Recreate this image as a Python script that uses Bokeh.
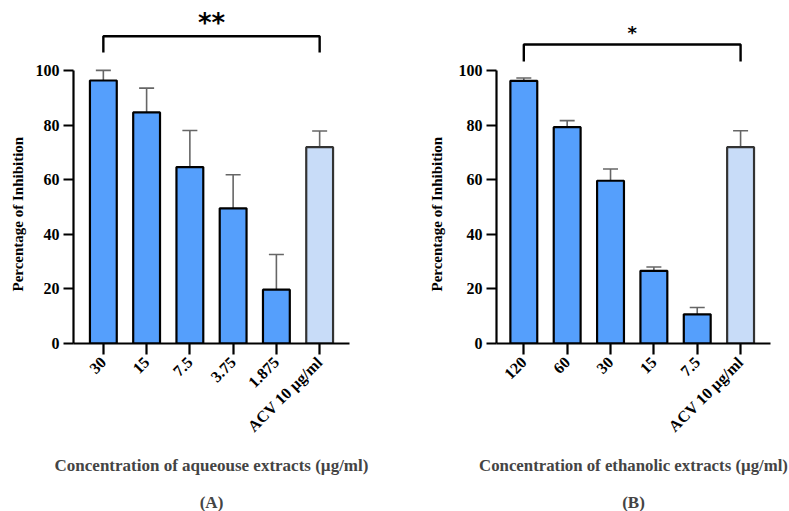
import math
from bokeh.plotting import figure
from bokeh.layouts import row
from bokeh.models import FixedTicker, Range1d, Title, ColumnDataSource, Whisker, TeeHead
from bokeh.embed import file_html
from bokeh.resources import INLINE
from bokeh.core.properties import value

# ---------------- data ----------------
cats_a = ["30", "15", "7.5", "3.75", "1.875", "ACV 10 µg/ml"]
means_a = [96.3, 84.6, 64.6, 49.5, 19.7, 71.9]
err_a = [3.7, 8.9, 13.4, 12.3, 12.9, 5.9]

cats_b = ["120", "60", "30", "15", "7.5", "ACV 10 µg/ml"]
means_b = [96.2, 79.2, 59.6, 26.6, 10.7, 71.9]
err_b = [1.0, 2.4, 4.3, 1.4, 2.5, 6.0]

y_ticks = [0, 20, 40, 60, 80, 100]
sig_a = "**"
sig_b = "*"
xlabel_a = "Concentration of aqueouse extracts (µg/ml)"
xlabel_b = "Concentration of ethanolic extracts (µg/ml)"
ylabel = "Percentage of Inhibition"
tag_a = "(A)"
tag_b = "(B)"

BLUE = "#559FFC"
LIGHT = "#C8DCF8"
SERIF = "Liberation Serif"
H = 511
YTOP = 125.6


def panel(cats, means, errs, sig, xlabel, tag, width, left, right, xpad_l, xpad_r,
          br_lo, br_hi, star_y, star_size, ylab_standoff, xlab_size):
    n = len(cats)
    xs = list(range(n))
    fills = [BLUE] * (n - 1) + [LIGHT]
    lines = ["black"] * (n - 1) + ["#333333"]
    src = ColumnDataSource(dict(x=xs, top=means, upper=[m + e for m, e in zip(means, errs)],
                                fill=fills, line=lines))
    p = figure(width=width, height=H, output_backend="svg", toolbar_location=None,
               x_range=Range1d(-xpad_l, n - 1 + xpad_r), y_range=Range1d(0, YTOP),
               min_border_left=left, min_border_right=right, min_border_top=0,
               min_border_bottom=0)
    p.outline_line_color = None
    p.grid.visible = False

    p.add_layout(Whisker(base="x", upper="upper", lower="top", source=src,
                         line_color="#666666", line_width=1.6,
                         upper_head=TeeHead(size=15, line_color="#666666", line_width=1.6),
                         lower_head=None, level="underlay"))
    p.vbar(x="x", top="top", width=0.62, bottom=0, source=src,
           fill_color="fill", line_color="line", line_width=2.2)

    # significance bracket
    p.line([0, 0, n - 1, n - 1], [br_lo, br_hi, br_hi, br_lo], line_color="black",
           line_width=2.4)
    p.text(x=[(n - 1) / 2], y=[star_y], text=[sig], text_align="center",
           text_baseline="middle", text_font=value("DejaVu Sans"),
           text_font_style="bold", text_font_size=star_size, text_color="black")

    # axes
    yax = p.yaxis[0]
    yax.ticker = FixedTicker(ticks=y_ticks)
    yax.bounds = (0, 100)
    yax.minor_tick_line_color = None
    yax.major_tick_in = 0
    yax.major_tick_out = 10
    yax.axis_line_width = 2.2
    yax.major_tick_line_width = 2.2
    yax.major_label_text_font = SERIF
    yax.major_label_text_font_style = "bold"
    yax.major_label_text_font_size = "16px"
    yax.major_label_text_color = "black"
    yax.major_label_standoff = 4

    # y-axis title, placed along the 0-100 span of the axis
    p.add_layout(Title(text=ylabel, align="left", offset=52, standoff=ylab_standoff,
                       text_font=SERIF, text_font_style="bold", text_font_size="15px",
                       text_color="black"), "left")

    xax = p.xaxis[0]
    xax.ticker = FixedTicker(ticks=xs)
    xax.major_label_overrides = {i: c for i, c in enumerate(cats)}
    xax.major_label_orientation = math.pi / 4
    xax.minor_tick_line_color = None
    xax.major_tick_in = 0
    xax.major_tick_out = 11
    xax.axis_line_width = 2.2
    xax.major_tick_line_width = 2.2
    xax.major_label_text_font = SERIF
    xax.major_label_text_font_style = "bold"
    xax.major_label_text_font_size = "16px"
    xax.major_label_text_color = "black"
    xax.major_label_standoff = 5
    xax.axis_label = xlabel + "\n "
    xax.axis_label_text_font = SERIF
    xax.axis_label_text_font_style = "bold"
    xax.axis_label_text_font_size = xlab_size
    xax.axis_label_text_line_height = 0.67
    xax.axis_label_standoff = 12

    p.add_layout(Title(text=tag, align="center", text_font=SERIF, text_font_style="bold",
                       text_font_size="17px", standoff=0), "below")
    return p


pa = panel(cats_a, means_a, err_a, sig_a, xlabel_a, tag_a, 400, 73, 51, 0.69, 0.69,
           106.6, 112.5, 117.2, "26px", 14, "17px")
pb = panel(cats_b, means_b, err_b, sig_b, xlabel_b, tag_b, 389, 96, 19, 0.63, 0.69,
           103.3, 109.5, 113.9, "18px", 22, "16.8px")

layout = row(pa, pb)
open("out.html", "w").write(file_html(layout, INLINE))
